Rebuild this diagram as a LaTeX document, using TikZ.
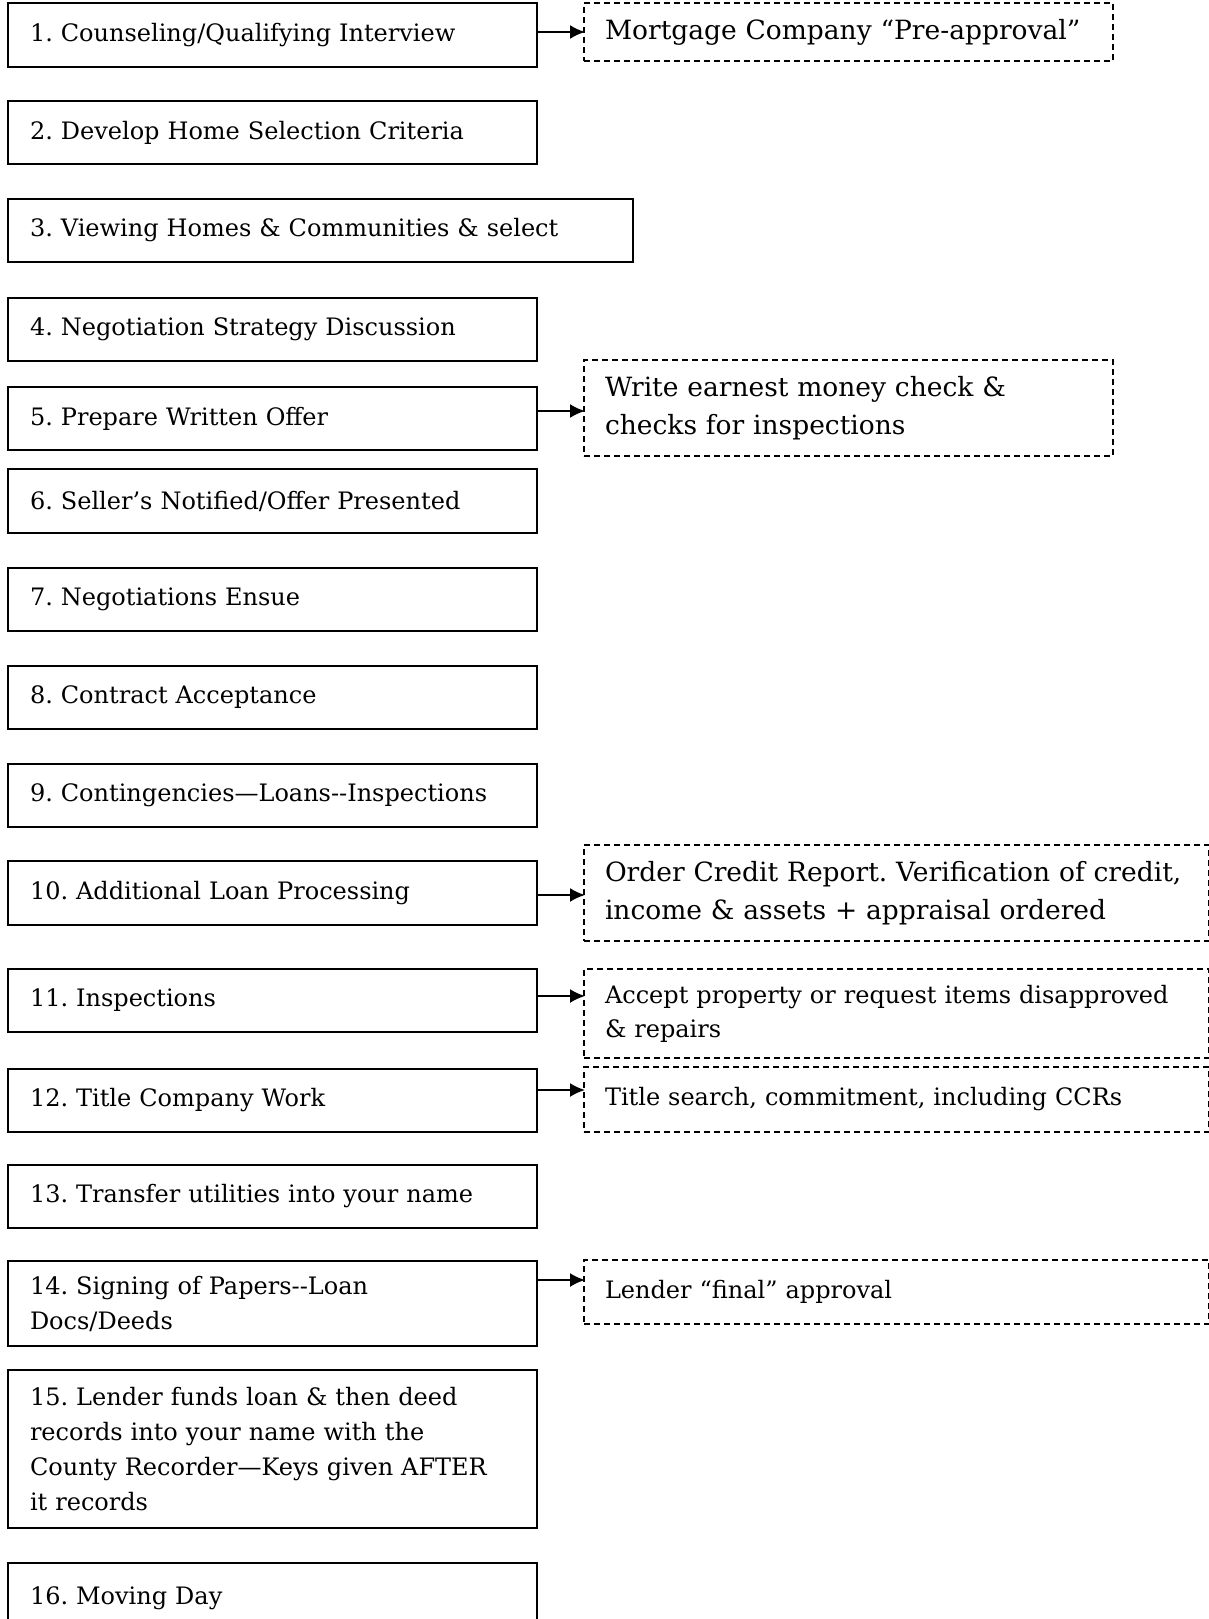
\documentclass[tikz,border=0pt]{standalone}
\usepackage{fontspec}
\setmainfont{DejaVu Serif}
\usetikzlibrary{arrows.meta}
\frenchspacing

\begin{document}
\begin{tikzpicture}[x=1pt,y=-1pt,
  stepbox/.style={draw,line width=2pt,anchor=north west,align=left,
    inner xsep=22pt,inner ysep=0pt,text width=485pt,
    font=\fontsize{24}{35}\selectfont},
  notebox/.style={draw,dash pattern=on 6pt off 4pt,line width=2pt,
    anchor=north west,align=left,inner xsep=21pt,inner ysep=0pt,
    text width=583pt,font=\fontsize{24}{34}\selectfont},
  bignote/.style={font=\fontsize{26.5}{38}\selectfont},
  link/.style={-{Latex[length=15pt,width=14pt]},line width=2pt}]
\useasboundingbox (0,0) rectangle (1209,1619);

% steps
\node[stepbox,minimum height=64pt] (step1) at (7,2) {1. Counseling/Qualifying Interview};
\node[stepbox,minimum height=63pt] (step2) at (7,100) {2. Develop Home Selection Criteria};
\node[stepbox,minimum height=63pt,text width=581pt] (step3) at (7,198) {3. Viewing Homes \& Communities \& select};
\node[stepbox,minimum height=63pt] (step4) at (7,297) {4. Negotiation Strategy Discussion};
\node[stepbox,minimum height=63pt] (step5) at (7,386) {5. Prepare Written Offer};
\node[stepbox,minimum height=64pt] (step6) at (7,468) {6. Seller’s Notified/Offer Presented};
\node[stepbox,minimum height=63pt] (step7) at (7,567) {7. Negotiations Ensue};
\node[stepbox,minimum height=63pt] (step8) at (7,665) {8. Contract Acceptance};
\node[stepbox,minimum height=63pt] (step9) at (7,763) {9. Contingencies—Loans{-}{-}Inspections};
\node[stepbox,minimum height=64pt] (step10) at (7,860) {10. Additional Loan Processing};
\node[stepbox,minimum height=63pt] (step11) at (7,968) {11. Inspections};
\node[stepbox,minimum height=63pt] (step12) at (7,1068) {12. Title Company Work};
\node[stepbox,minimum height=63pt] (step13) at (7,1164) {13. Transfer utilities into your name};
\node[stepbox,minimum height=85pt] (step14) at (7,1260) {14. Signing of Papers{-}{-}Loan\\Docs/Deeds};
\node[stepbox,minimum height=158pt] (step15) at (7,1369) {15. Lender funds loan \& then deed\\records into your name with the\\County Recorder—Keys given AFTER\\it records};
\node[stepbox,minimum height=70pt] (step16) at (7,1562) {16. Moving Day};

% notes
\node[notebox,bignote,minimum height=58pt,text width=487pt] (note1) at (583,2) {Mortgage Company “Pre-approval”};
\node[notebox,bignote,minimum height=96pt,text width=487pt] (note5) at (583,359) {Write earnest money check \&\\checks for inspections};
\node[notebox,bignote,minimum height=96pt] (note10) at (583,844) {Order Credit Report. Verification of credit,\\income \& assets + appraisal ordered};
\node[notebox,minimum height=89pt] (note11) at (583,968) {Accept property or request items disapproved\\\& repairs};
\node[notebox,minimum height=65pt] (note12) at (583,1066) {Title search, commitment, including CCRs};
\node[notebox,minimum height=64pt] (note14) at (583,1259) {Lender “final” approval};

\draw[link] ([yshift=3pt]step1.east) -- ++(47,0);
\draw[link] ([yshift=7.5pt]step5.east) -- ++(47,0);
\draw[link] ([yshift=-2pt]step10.east) -- ++(47,0);
\draw[link] ([yshift=4.5pt]step11.east) -- ++(47,0);
\draw[link] ([yshift=10.5pt]step12.east) -- ++(47,0);
\draw[link] ([yshift=23.5pt]step14.east) -- ++(47,0);

\end{tikzpicture}
\end{document}
